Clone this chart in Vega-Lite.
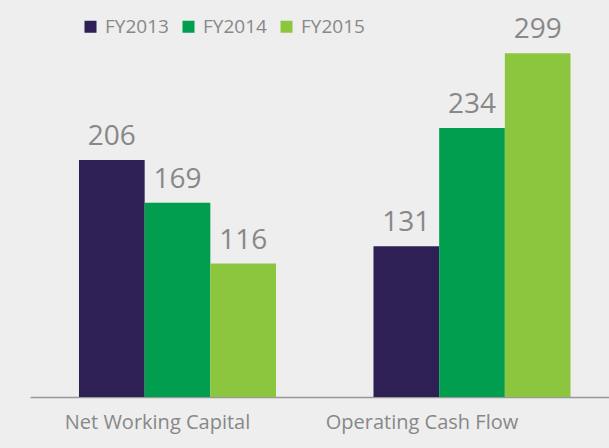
{
  "$schema": "https://vega.github.io/schema/vega-lite/v6.json",
  "width": 579,
  "height": 345,
  "autosize": "none",
  "padding": {"left": 30, "top": 52, "right": 0, "bottom": 51},
  "background": "#eeeeee",
  "config": {"view": {"stroke": null}, "font": "Open Sans"},
  "data": {
    "values": [
      {"metric": "Net Working Capital", "year": "FY2013", "value": 206},
      {"metric": "Net Working Capital", "year": "FY2014", "value": 169},
      {"metric": "Net Working Capital", "year": "FY2015", "value": 116},
      {"metric": "Operating Cash Flow", "year": "FY2013", "value": 131},
      {"metric": "Operating Cash Flow", "year": "FY2014", "value": 234},
      {"metric": "Operating Cash Flow", "year": "FY2015", "value": 299}
    ]
  },
  "encoding": {
    "x": {
      "field": "metric",
      "type": "nominal",
      "sort": ["Net Working Capital", "Operating Cash Flow"],
      "scale": {"paddingInner": 0.331, "paddingOuter": 0.1485, "align": 0.56},
      "axis": {
        "title": null,
        "labelAngle": 0,
        "ticks": false,
        "domainColor": "#999999",
        "domainWidth": 1.5,
        "labelFont": "Open Sans",
        "labelFontSize": 20,
        "labelColor": "#888888",
        "labelPadding": 15,
        "labelLimit": 0,
        "labelOffset": {"condition": {"test": "datum.value == 'Operating Cash Flow'", "value": -50}, "value": -20}
      }
    },
    "xOffset": {"field": "year", "type": "nominal", "scale": {"paddingInner": 0, "paddingOuter": 0}},
    "y": {
      "field": "value",
      "type": "quantitative",
      "scale": {"domain": [0, 300], "nice": false},
      "axis": null
    }
  },
  "layer": [
    {
      "mark": {"type": "bar"},
      "encoding": {
        "color": {
          "field": "year",
          "type": "nominal",
          "scale": {"domain": ["FY2013", "FY2014", "FY2015"], "range": ["#2e1f55", "#009e4e", "#8cc63f"]},
          "legend": {
            "title": null,
            "orient": "none",
            "direction": "horizontal",
            "legendX": 51,
            "legendY": -35,
            "padding": 0,
            "symbolType": "square",
            "symbolSize": 144,
            "symbolStrokeWidth": 0,
            "labelFont": "Open Sans",
            "labelFontSize": 19,
            "labelColor": "#888888",
            "labelOffset": 5,
            "columnPadding": 10
          }
        }
      }
    },
    {
      "mark": {"type": "text", "baseline": "alphabetic", "dy": -15, "fontSize": 28, "color": "#888888", "font": "Open Sans"},
      "encoding": {"text": {"field": "value", "type": "quantitative"}}
    }
  ]
}
